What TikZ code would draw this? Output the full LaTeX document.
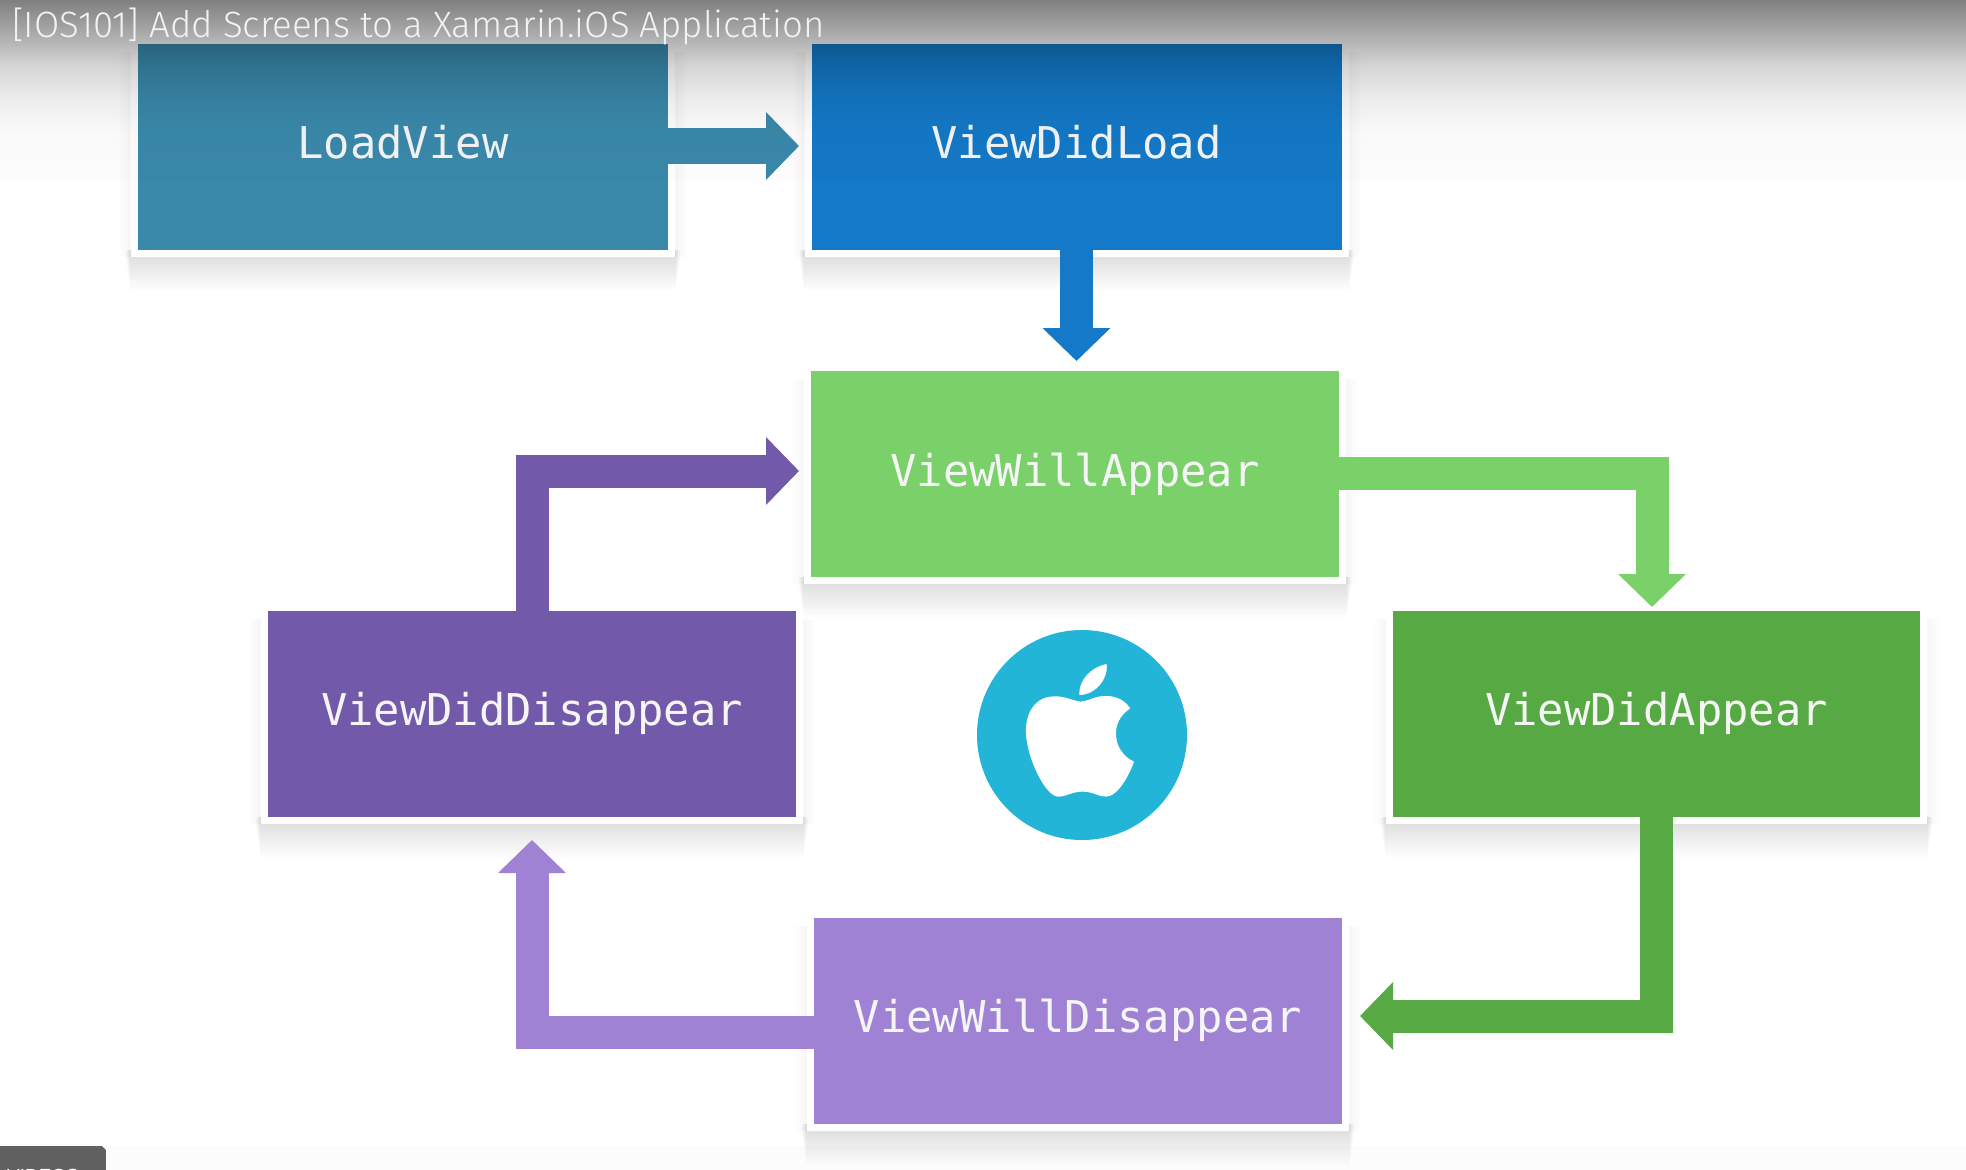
\documentclass[tikz,border=0pt]{standalone}
\usepackage{fontspec}
\setmainfont{Liberation Sans}
\setmonofont{DejaVu Sans Mono}
\newfontfamily\titlefont{Fira Sans}[UprightFont=* Light]
\usetikzlibrary{arrows.meta,backgrounds,calc,fadings}
\definecolor{cLoad}{HTML}{3A89AB}
\definecolor{cDidLoad}{HTML}{1479C8}
\definecolor{cWillApp}{HTML}{7AD069}
\definecolor{cDidApp}{HTML}{57A944}
\definecolor{cDidDis}{HTML}{7259A9}
\definecolor{cWillDis}{HTML}{9F82D3}
\definecolor{cLogo}{HTML}{22B5D8}
\pgfdeclareverticalshading{topshade}{100bp}{%
  color(0bp)=(black); color(24.9bp)=(black); color(25bp)=(white!1!black); color(38bp)=(white!2!black); color(47.2bp)=(white!7!black);
  color(56.4bp)=(white!16!black); color(63.9bp)=(white!30!black); color(75bp)=(white!50!black); color(100bp)=(white!50!black)}
\pgfdeclarefading{topfade}{\pgfuseshading{topshade}}
\tikzset{
  box/.style={minimum width=530pt,minimum height=206pt,inner sep=0pt,outer sep=0pt,
    text=white!96!black,text height=32pt,text depth=8pt,
    font=\ttfamily\fontsize{43.8}{50}\selectfont},
  flow/.style={line width=33pt,line join=miter,
    -{Triangle[length=33pt,width=66pt]}},
}
\newcommand{\boxbg}[1]{%
  \begin{pgfonlayer}{background}
    \foreach \i in {1,2,3,4}
      \fill[black,opacity=.008] ([xshift=-7pt-\i*3pt,yshift=-7pt]#1.south west) rectangle ([xshift=7pt+\i*3pt,yshift=-8pt]#1.north east);
    \foreach \i in {1,...,10}
      \fill[black,opacity=.01] ([xshift=-12.7pt+\i*.5pt,yshift=-7pt-\i*3.3pt]#1.south west) rectangle ([xshift=12.7pt-\i*.5pt]#1.south east);
    \fill[white] ([xshift=-7pt,yshift=-7pt]#1.south west) rectangle ([xshift=7pt,yshift=5pt]#1.north east);
  \end{pgfonlayer}}
\begin{document}
\begin{tikzpicture}[x=1pt,y=-1pt]
\useasboundingbox (0,0) rectangle (1966,1170);
\begin{pgfonlayer}{background}
\fill[white] (0,0) rectangle (1966,1170);
\fill[black,opacity=.012] (0,1146) rectangle (1966,1170);
\end{pgfonlayer}
% boxes
\node[box,fill=cLoad,text depth=10pt] (load) at (403,147) {LoadView};
\node[box,fill=cDidLoad,text depth=10pt] (didload) at (1076.5,147) {ViewDidLoad};
\node[box,fill=cWillApp,minimum width=528pt] (willapp) at (1075,474) {ViewWillAppear};
\node[box,fill=cDidApp,minimum width=527pt] (didapp) at (1656.5,713.5) {ViewDidAppear};
\node[box,fill=cDidDis,minimum width=528pt] (diddis) at (532,713.5) {ViewDidDisappear};
\node[box,fill=cWillDis,minimum width=528pt,text depth=10pt] (willdis) at (1078,1021) {ViewWillDisappear};
\boxbg{load}\boxbg{didload}\boxbg{willapp}\boxbg{didapp}\boxbg{diddis}\boxbg{willdis}
% free ends
\coordinate (t1) at (799,146);
\coordinate (t2) at (1076.5,361);
\coordinate (t3) at (1652,607);
\coordinate (e3) at (0,473);
\coordinate (t4) at (1360,1016);
\coordinate (t5) at (532,840);
\coordinate (e5) at (0,1032);
\coordinate (t6) at (799,471);
% connectors
\draw[flow,cLoad,line width=36pt] (load.east |- t1) -- (t1);
\draw[flow,cDidLoad] (didload.south) -- (t2);
\draw[flow,cWillApp] (willapp.east |- e3) -| (t3);
\draw[flow,cDidApp] (didapp.south) |- (t4);
\draw[flow,cWillDis] (willdis.west |- e5) -| (t5);
\draw[flow,cDidDis] (diddis.north) |- (t6);
% logo
\node[circle,fill=cLogo,minimum size=210pt,inner sep=0pt] (logo) at (1082,735) {};
\begin{scope}[shift={(950,600)},x=0.3333pt,y=-0.3333pt]
\fill[white] (392,305) .. controls (360,300) and (340,285) .. (300,290)
 .. controls (255,295) and (225,340) .. (228,400)
 .. controls (230,470) and (285,590) .. (325,590)
 .. controls (350,590) and (365,575) .. (397,575)
 .. controls (430,575) and (445,590) .. (468,590)
 .. controls (505,590) and (540,520) .. (552,485)
 .. controls (520,470) and (498,440) .. (498,400)
 .. controls (498,365) and (518,340) .. (541,325)
 .. controls (520,295) and (490,287) .. (465,288)
 .. controls (435,288) and (415,303) .. (392,305) -- cycle;
\fill[white] (388,285) .. controls (385,240) and (425,200) .. (470,192)
 .. controls (475,240) and (435,285) .. (388,285) -- cycle;
\end{scope}
% top gradient
\fill[black,path fading=topfade] (-60,0) rectangle (2060,180);
% title
\node[anchor=base west,inner sep=0pt,text=white!95!black,font=\titlefont\fontsize{36.6}{40}\selectfont] (title) at (12,37) {[IOS101] Add Screens to a Xamarin.iOS Application};
% bottom tab
\begin{scope}
\clip (0,1146) -- (102,1146) -- (106,1150) -- (106,1170) -- (0,1170) -- cycle;
\fill[black!62] (0,1146) rectangle (106,1170);
\node[anchor=base west,inner sep=0pt,text=white,font=\fontsize{19}{22}\selectfont] (tab) at (7,1182) {VIDEOS};
\end{scope}
\end{tikzpicture}
\end{document}
